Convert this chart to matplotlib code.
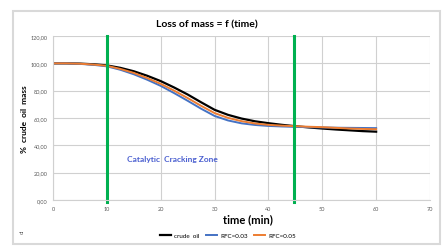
import matplotlib
matplotlib.use("Agg")
import matplotlib.pyplot as plt
from matplotlib.patches import Rectangle

# time (min) and % crude oil mass, read every 2.5 min
time_min = [0, 2.5, 5, 7.5, 10, 12.5, 15, 17.5, 20, 22.5, 25, 27.5, 30,
            32.5, 35, 37.5, 40, 42.5, 45, 47.5, 50, 52.5, 55, 57.5, 60]
crude_oil = [100, 100, 99.8, 99.3, 98.5, 96.7, 94.2, 90.9, 87, 82.3, 77.2, 71.5, 66,
             62.3, 59.6, 57.6, 56.2, 55, 54, 53.1, 52.3, 51.6, 51, 50.4, 50]
rfc_003 = [100, 100, 99.6, 98.9, 97.8, 95.3, 92, 88, 83.5, 78.2, 72.6, 66.8, 61.5,
           58.2, 56.1, 54.9, 54.2, 53.8, 53.5, 53.3, 53.1, 52.9, 52.8, 52.7, 52.6]
rfc_005 = [100, 100, 99.7, 99.1, 98.2, 95.9, 93, 89.2, 85, 80, 74.6, 68.9, 63.6,
           60.1, 57.7, 56, 55, 54.4, 54, 53.6, 53.3, 52.8, 52.3, 52, 51.8]
zone_limits = [10, 44.7]

plt.rcParams['font.family'] = ['Lato', 'DejaVu Sans']

fig = plt.figure(figsize=(4.47, 2.53), dpi=100)
fig.patches.append(Rectangle((13 / 447, 1 - 245 / 253), 427 / 447, 233 / 253,
                             transform=fig.transFigure, fill=False,
                             edgecolor='#d9d9d9', linewidth=1.5))

ax = fig.add_axes([53 / 447, 1 - 201 / 253, 377 / 447, 164 / 253])
ax.set_xlim(0, 70)
ax.set_ylim(0, 120)
ax.set_xticks(range(0, 71, 10))
ax.set_yticks(range(0, 121, 20))
ax.set_yticklabels([f"{v},00" for v in range(0, 121, 20)])
ax.tick_params(labelsize=4, colors='#595959', length=0, pad=4)
ax.grid(True, color='#d0d0d0', linewidth=0.8)
for side in ['top', 'right']:
    ax.spines[side].set_visible(False)
ax.spines['left'].set_color('#d0d0d0')
ax.spines['bottom'].set_color('#d0d0d0')
ax.set_axisbelow(True)

ax.plot(time_min, crude_oil, color='black', linewidth=1.6, label='crude  oil')
ax.plot(time_min, rfc_003, color='#4472C4', linewidth=1.4, label='RFC=0.03')
ax.plot(time_min, rfc_005, color='#ED7D31', linewidth=1.4, label='RFC=0.05')

for x in zone_limits:
    ax.axvline(x, ymin=-0.01, ymax=1, color='#00B050', linewidth=2.2, clip_on=False)

ax.text(13.7, 30.7, 'Catalytic  Cracking Zone', color='#4a5fd0', fontsize=6,
        fontweight='bold', va='center')

fig.text(207 / 447, 1 - 25 / 253, 'Loss of mass = f (time)', fontsize=7.5,
         fontweight='bold', ha='center', va='center')
fig.text(248 / 447, 1 - 220 / 253, 'time (min)', fontsize=8, fontweight='bold',
         ha='center', va='center')
ax.set_ylabel('%  crude  oil  mass', fontsize=6, fontweight='bold', labelpad=2)

fig.text(22 / 447, 1 - 232 / 253, 'ol', rotation=90, fontsize=4, color='#595959',
         ha='center', va='center')

fig.legend(loc='center', bbox_to_anchor=(228 / 447, 1 - 236 / 253), ncol=3,
           frameon=False, fontsize=4.5, handlelength=1.8, columnspacing=1.0,
           handletextpad=0.5)

fig.savefig('out.png', dpi=100)
